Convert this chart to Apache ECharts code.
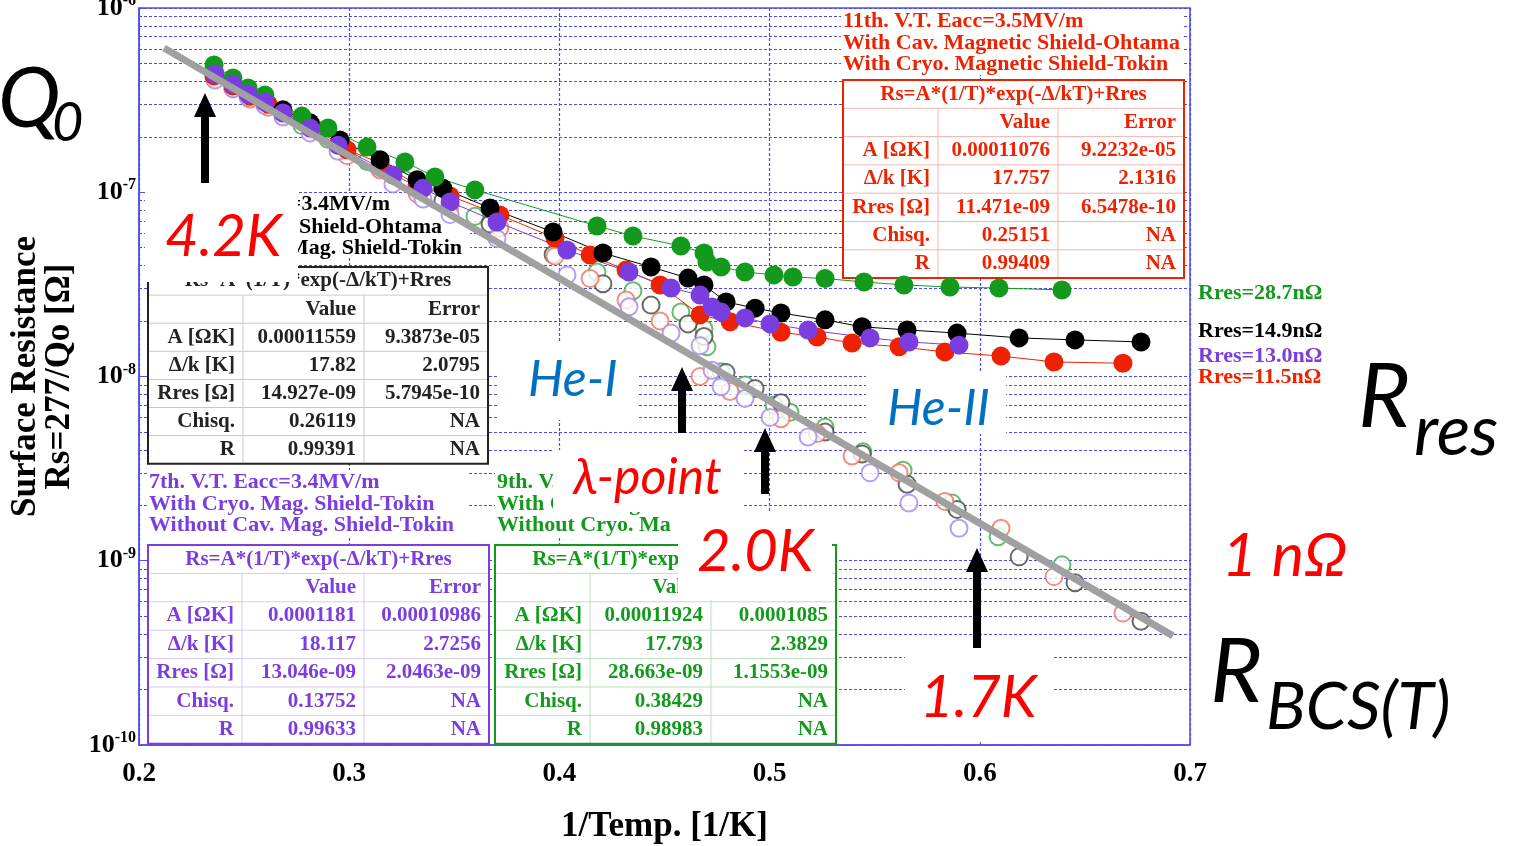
<!DOCTYPE html>
<html>
<head>
<meta charset="utf-8">
<script src="https://cdn.jsdelivr.net/npm/echarts@6/dist/echarts.min.js"></script>
<style>
html, body { margin: 0; padding: 0; background: #fff; }
#chart { width: 1516px; height: 846px; }
</style>
</head>
<body>
<div id="chart"></div>
<script>
// values: [1/T (1/K), Rs (Ohm)]
var greenFilled = [[0.2357,4.9e-7],[0.2447,4.17e-7],[0.2519,3.68e-7],[0.2599,3.37e-7],[0.2775,2.59e-7],[0.2899,2.23e-7],[0.3085,1.76e-7],[0.3265,1.46e-7],[0.3408,1.21e-7],[0.3598,1.03e-7],[0.4179,6.56e-8],[0.4350,5.79e-8],[0.4578,5.11e-8],[0.4688,4.68e-8],[0.4702,4.18e-8],[0.4769,3.93e-8],[0.4883,3.69e-8],[0.5021,3.56e-8],[0.5111,3.47e-8],[0.5264,3.40e-8],[0.5449,3.26e-8],[0.5639,3.14e-8],[0.5858,3.06e-8],[0.6091,3.02e-8],[0.6391,2.95e-8]];
var blackFilled = [[0.2357,4.49e-7],[0.2447,3.97e-7],[0.2519,3.50e-7],[0.2599,3.17e-7],[0.2685,2.80e-7],[0.2814,2.38e-7],[0.2956,1.92e-7],[0.3147,1.50e-7],[0.3323,1.17e-7],[0.3446,1.05e-7],[0.3670,8.21e-8],[0.3970,6.08e-8],[0.4207,4.68e-8],[0.4436,3.93e-8],[0.4612,3.42e-8],[0.4688,3.14e-8],[0.4793,2.54e-8],[0.4931,2.35e-8],[0.5054,2.21e-8],[0.5264,2.03e-8],[0.5440,1.86e-8],[0.5654,1.79e-8],[0.5892,1.72e-8],[0.6187,1.62e-8],[0.6453,1.58e-8],[0.6767,1.54e-8]];
var redFilled = [[0.2357,4.28e-7],[0.2447,3.77e-7],[0.2528,3.33e-7],[0.2614,3.01e-7],[0.2685,2.73e-7],[0.2823,2.29e-7],[0.2990,1.70e-7],[0.3147,1.44e-7],[0.3323,1.10e-7],[0.3480,9.54e-8],[0.3717,7.52e-8],[0.3979,5.64e-8],[0.4146,4.56e-8],[0.4317,3.78e-8],[0.4479,3.14e-8],[0.4669,2.16e-8],[0.4812,1.98e-8],[0.5054,1.74e-8],[0.5226,1.64e-8],[0.5392,1.52e-8],[0.5616,1.45e-8],[0.5834,1.36e-8],[0.6101,1.29e-8],[0.6353,1.20e-8],[0.6681,1.18e-8]];
var purpleFilled = [[0.2362,4.38e-7],[0.2447,3.87e-7],[0.2519,3.41e-7],[0.2599,3.09e-7],[0.2685,2.69e-7],[0.2814,2.23e-7],[0.2947,1.80e-7],[0.3208,1.24e-7],[0.3351,1.05e-7],[0.3480,8.86e-8],[0.3703,6.90e-8],[0.4036,4.86e-8],[0.4331,3.69e-8],[0.4531,3.02e-8],[0.4669,2.77e-8],[0.4726,2.38e-8],[0.4769,2.24e-8],[0.4883,2.08e-8],[0.5002,1.93e-8],[0.5183,1.79e-8],[0.5478,1.62e-8],[0.5663,1.54e-8],[0.5901,1.48e-8]];

// open circles: Rs - Rres
var greenHollow = [[0.2357,4.6e-7],[0.2447,3.88e-7],[0.2519,3.39e-7],[0.2599,3.08e-7],[0.2775,2.30e-7],[0.2899,1.94e-7],[0.3085,1.47e-7],[0.3265,1.17e-7],[0.3408,9.2e-8],[0.3598,7.4e-8],[0.4179,3.69e-8],[0.4350,2.92e-8],[0.4578,2.24e-8],[0.4688,1.81e-8],[0.4702,1.45e-8],[0.4769,1.06e-8],[0.4883,9.0e-9],[0.5021,7.0e-9],[0.5097,6.4e-9],[0.5264,5.3e-9],[0.5444,3.9e-9],[0.5635,3.1e-9],[0.5868,2.06e-9],[0.6087,1.35e-9],[0.6391,9.5e-10]];
var blackHollow = [[0.2357,4.34e-7],[0.2447,3.82e-7],[0.2519,3.35e-7],[0.2599,3.02e-7],[0.2685,2.65e-7],[0.2814,2.23e-7],[0.2956,1.77e-7],[0.3147,1.35e-7],[0.3323,1.02e-7],[0.3446,9.0e-8],[0.3670,6.72e-8],[0.3970,4.59e-8],[0.4207,3.19e-8],[0.4436,2.44e-8],[0.4612,1.93e-8],[0.4688,1.65e-8],[0.4793,1.05e-8],[0.4931,8.6e-9],[0.5054,7.2e-9],[0.5264,5.0e-9],[0.5440,3.8e-9],[0.5654,2.6e-9],[0.5892,1.9e-9],[0.6187,1.05e-9],[0.6453,7.6e-10],[0.6767,4.7e-10]];
var redHollow = [[0.2357,4.17e-7],[0.2447,3.65e-7],[0.2528,3.21e-7],[0.2614,2.89e-7],[0.2685,2.61e-7],[0.2823,2.17e-7],[0.2990,1.58e-7],[0.3147,1.32e-7],[0.3323,9.8e-8],[0.3480,8.4e-8],[0.3717,6.4e-8],[0.3979,4.5e-8],[0.4146,3.4e-8],[0.4317,2.6e-8],[0.4479,2.0e-8],[0.4669,1.0e-8],[0.4812,8.3e-9],[0.5054,5.9e-9],[0.5226,4.9e-9],[0.5392,3.7e-9],[0.5616,3.0e-9],[0.5834,2.1e-9],[0.6101,1.5e-9],[0.6353,8.2e-10],[0.6681,5.2e-10]];
var purpleHollow = [[0.2362,4.07e-7],[0.2447,3.64e-7],[0.2519,3.28e-7],[0.2599,2.96e-7],[0.2685,2.56e-7],[0.2814,2.10e-7],[0.2947,1.67e-7],[0.3208,1.11e-7],[0.3351,9.2e-8],[0.3480,7.56e-8],[0.3703,5.6e-8],[0.4036,3.56e-8],[0.4331,2.39e-8],[0.4531,1.72e-8],[0.4669,1.47e-8],[0.4726,1.08e-8],[0.4769,8.8e-9],[0.4883,7.6e-9],[0.5002,6.0e-9],[0.5183,4.7e-9],[0.5478,3.0e-9],[0.5663,2.06e-9],[0.5901,1.5e-9]];

// grey BCS guide line
var bcsLine = [[0.2119,6.07e-7],[0.6919,3.91e-10]];

var xTicks = [0.2, 0.3, 0.4, 0.5, 0.6, 0.7];

// fit tables
var fitHeader = 'Rs=A*(1/T)*exp(-\u0394/kT)+Rres';
var rowNames = ['A [\u03A9K]', '\u0394/k [K]', 'Rres [\u03A9]', 'Chisq.', 'R'];
var redFit = [['0.00011076','9.2232e-05'],['17.757','2.1316'],['11.471e-09','6.5478e-10'],['0.25151','NA'],['0.99409','NA']];
var blackFit = [['0.00011559','9.3873e-05'],['17.82','2.0795'],['14.927e-09','5.7945e-10'],['0.26119','NA'],['0.99391','NA']];
var purpleFit = [['0.0001181','0.00010986'],['18.117','2.7256'],['13.046e-09','2.0463e-09'],['0.13752','NA'],['0.99633','NA']];
var greenFit = [['0.00011924','0.0001085'],['17.793','2.3829'],['28.663e-09','1.1553e-09'],['0.38429','NA'],['0.98983','NA']];

var redTitle = ['11th. V.T. Eacc=3.5MV/m', 'With Cav. Magnetic Shield-Ohtama', 'With Cryo. Magnetic Shield-Tokin'];
var blackTitle = ['10th. V.T. Eacc=3.4MV/m', 'With Cav. Mag. Shield-Ohtama', 'With Cryo. Mag. Shield-Tokin'];
var purpleTitle = ['7th. V.T. Eacc=3.4MV/m', 'With Cryo. Mag. Shield-Tokin', 'Without Cav. Mag. Shield-Tokin'];
var greenTitle = ['9th. V.T. Eacc=3.5MV/m', 'With Cav. Mag. Shield-Ohtama', 'Without Cryo. Mag. Shield-Tokin'];

var rresLabels = ['Rres=28.7n\u03A9', 'Rres=14.9n\u03A9', 'Rres=13.0n\u03A9', 'Rres=11.5n\u03A9'];

var GREEN = '#139a1c', BLACK = '#000000', RED = '#ee2200', PURPLE = '#7a3ee0';
var GRID_BLUE = '#4a4ae6';
var SERIF = '"Liberation Serif", "DejaVu Serif", serif';
var SANS = 'Lato, "Open Sans", "Noto Sans", sans-serif';

// minor log grid lines at 2..9 x 10^n
var minorLines = [];
for (var e = -10; e < -6; e++) {
    for (var k = 2; k <= 9; k++) {
        var v = k * Math.pow(10, e);
        minorLines.push({ coords: [[xTicks[0], v], [xTicks[xTicks.length - 1], v]] });
    }
}

function txt(text, x, y, font, fill, align, z) {
    return { type: 'text', z: z, silent: true,
        style: { text: text, x: x, y: y, font: font, fill: fill, textAlign: align || 'left', verticalAlign: 'middle' } };
}

function rect(x, y, w, h, fill, stroke, lw, z) {
    return { type: 'rect', z: z, silent: true, shape: { x: x, y: y, width: w, height: h },
        style: { fill: fill, stroke: stroke || null, lineWidth: lw || 0 } };
}

function line(x1, y1, x2, y2, stroke, lw, z) {
    return { type: 'line', z: z, silent: true, shape: { x1: x1, y1: y1, x2: x2, y2: y2 },
        style: { stroke: stroke, lineWidth: lw } };
}

function table(cols, top, rowH, color, inner, vals) {
    var els = [], h = rowH * 7, font = 'bold 21px ' + SERIF;
    els.push(rect(cols[0], top, cols[3] - cols[0], h, '#fff', null, 0, 1));
    for (var i = 1; i < 7; i++) els.push(line(cols[0], top + i * rowH, cols[3], top + i * rowH, inner, 1, 1));
    els.push(line(cols[1], top + rowH, cols[1], top + h, inner, 1, 1));
    els.push(line(cols[2], top + rowH, cols[2], top + h, inner, 1, 1));
    els.push(rect(cols[0], top, cols[3] - cols[0], h, 'none', color, 2, 1));
    els.push(txt(fitHeader, (cols[0] + cols[3]) / 2, top + rowH / 2, font, color, 'center', 1));
    els.push(txt('Value', cols[2] - 8, top + rowH * 1.5, font, color, 'right', 1));
    els.push(txt('Error', cols[3] - 8, top + rowH * 1.5, font, color, 'right', 1));
    rowNames.forEach(function (n, r) {
        var y = top + rowH * (r + 2.5);
        els.push(txt(n, cols[1] - 8, y, font, color, 'right', 1));
        els.push(txt(vals[r][0], cols[2] - 8, y, font, color, 'right', 1));
        els.push(txt(vals[r][1], cols[3] - 8, y, font, color, 'right', 1));
    });
    return els;
}

function title(lines, x, ys, color, align, clip) {
    return lines.map(function (s, i) {
        var t = txt(s, x, ys[i], 'bold 22px ' + SERIF, color, align, 1);
        if (clip) { t.style.width = clip; t.style.overflow = 'truncate'; t.style.ellipsis = ''; }
        return t;
    });
}

function arrow(x, top, bottom) {
    return { type: 'polygon', z: 11, silent: true,
        shape: { points: [[x, top], [x + 11, top + 24], [x + 4, top + 24], [x + 4, bottom], [x - 4, bottom], [x - 4, top + 24], [x - 11, top + 24]] },
        style: { fill: '#000' } };
}

var graphics = [];
// title backgrounds
graphics.push(rect(841, 9, 342, 66, '#fff', null, 0, 1));
graphics.push(rect(298, 193, 172, 64, '#fff', null, 0, 1));
graphics.push(rect(147, 470, 320, 66, '#fff', null, 0, 1));
graphics.push(rect(495, 470, 185, 66, '#fff', null, 0, 1));
graphics = graphics.concat(title(redTitle, 843, [21, 43, 64], RED, 'left'));
graphics = graphics.concat(title(blackTitle, 390, [204, 227, 248], BLACK, 'right'));
graphics[graphics.length - 2].style.x = 442;
graphics[graphics.length - 1].style.x = 462;
graphics = graphics.concat(title(purpleTitle, 149, [482, 504, 525], PURPLE, 'left'));
graphics = graphics.concat(title(greenTitle, 497, [482, 504, 525], GREEN, 'left', 181));
graphics = graphics.concat(table([843, 938, 1058, 1184], 80, 28.3, RED, '#f4b4b0', redFit));
graphics = graphics.concat(table([148, 243, 364, 488], 267, 28.1, '#222', '#c8c8c8', blackFit));
graphics = graphics.concat(table([148, 242, 364, 489], 545, 28.4, PURPLE, '#d6c8f6', purpleFit));
graphics = graphics.concat(table([495, 590, 711, 836], 545, 28.4, GREEN, '#b8e0bc', greenFit));

// white annotation boxes and labels
graphics.push(rect(145, 186, 153, 96, '#fff', null, 0, 10));
graphics.push(rect(553, 450, 190, 62, '#fff', null, 0, 10));
graphics.push(rect(678, 512, 154, 88, '#fff', null, 0, 10));
graphics.push(rect(497, 342, 140, 78, '#fff', null, 0, 10));
graphics.push(rect(866, 372, 140, 62, '#fff', null, 0, 10));
graphics.push(rect(905, 645, 148, 97, '#fff', null, 0, 10));

var redItalic = 'italic 58px ' + SANS;
graphics.push(txt('4.2K', 165, 237, redItalic, '#ff0000', 'left', 11));
graphics.push(txt('\u03BB-point', 573, 478, 'italic 50px ' + SANS, '#ff0000', 'left', 11));
graphics.push(txt('2.0K', 697, 552, redItalic, '#ff0000', 'left', 11));
graphics.push(txt('1.7K', 920, 698, redItalic, '#ff0000', 'left', 11));
graphics.push(txt('1 n\u03A9', 1222, 556, 'italic 61px ' + SANS, '#ff0000', 'left', 11));
graphics.push(txt('He-I', 528, 380, 'italic 50px ' + SANS, '#0070c0', 'left', 11));
graphics.push(txt('He-II', 887, 409, 'italic 50px ' + SANS, '#0070c0', 'left', 11));

graphics.push(txt('Q', -2, 100, 'italic 84px ' + SANS, '#000', 'left', 11));
graphics.push(txt('0', 52, 124, 'italic 54px ' + SANS, '#000', 'left', 11));
graphics.push(txt('R', 1358, 398, 'italic 90px ' + SANS, '#000', 'left', 11));
graphics.push(txt('res', 1414, 432, 'italic 70px ' + SANS, '#000', 'left', 11));
graphics.push(txt('R', 1210, 673, 'italic 90px ' + SANS, '#000', 'left', 11));
graphics.push(txt('BCS(T)', 1266, 708, 'italic 66px ' + SANS, '#000', 'left', 11));

graphics.push(arrow(205, 93, 183));
graphics.push(arrow(682, 367, 433));
graphics.push(arrow(765, 428, 494));
graphics.push(arrow(977, 548, 648));

[GREEN, BLACK, PURPLE, RED].forEach(function (c, i) {
    graphics.push(txt(rresLabels[i], 1198, [293, 331, 356, 377][i], 'bold 22px ' + SERIF, c, 'left', 11));
});

function filled(name, data, color) {
    return { name: name, type: 'line', z: 3, data: data, symbol: 'circle', symbolSize: 19,
        itemStyle: { color: color }, lineStyle: { color: color, width: 1 }, animation: false };
}
function hollow(name, data, color) {
    return { name: name, type: 'scatter', z: 2, data: data, symbol: 'emptyCircle', symbolSize: 17,
        itemStyle: { color: color, borderWidth: 1.1 }, animation: false };
}

var dash = { color: GRID_BLUE, type: [3, 2], width: 1.2 };

var chart = echarts.init(document.getElementById('chart'));
chart.setOption({
    animation: false,
    grid: { left: 139, right: 326, top: 8, bottom: 101, outerBoundsMode: 'none', containLabel: false,
        show: true, borderColor: '#5050ea', borderWidth: 1.5 },
    xAxis: {
        type: 'value', min: xTicks[0], max: xTicks[xTicks.length - 1], interval: 0.1,
        name: '1/Temp. [1/K]', nameLocation: 'middle', nameGap: 64,
        nameTextStyle: { fontFamily: SERIF, fontWeight: 'bold', fontSize: 35, color: '#000' },
        axisLine: { lineStyle: { color: '#5050ea', width: 1.5 } },
        axisTick: { inside: true, length: 6, lineStyle: { color: '#5050ea' } },
        axisLabel: { margin: 16, fontFamily: SERIF, fontWeight: 'bold', fontSize: 27, color: '#000',
            formatter: function (v) { return v.toFixed(1); } },
        splitLine: { show: true, lineStyle: dash }
    },
    yAxis: {
        type: 'log', logBase: 10, min: 1e-10, max: 1e-6,
        name: 'Surface Resistance\nRs=277/Qo [\u03A9]', nameLocation: 'middle', nameGap: 62, nameRotate: 90,
        nameTextStyle: { fontFamily: SERIF, fontWeight: 'bold', fontSize: 35, lineHeight: 34, color: '#000' },
        axisLine: { lineStyle: { color: '#5050ea', width: 1.5 } },
        axisTick: { inside: true, length: 6, lineStyle: { color: '#5050ea' } },
        axisLabel: { margin: 3,
            formatter: function (v) { return '{b|10}{s|' + Math.round(Math.log10(v)) + '}'; },
            rich: {
                b: { fontFamily: SERIF, fontWeight: 'bold', fontSize: 26, color: '#000' },
                s: { fontFamily: SERIF, fontWeight: 'bold', fontSize: 16, color: '#000', padding: [0, 0, 14, 0] }
            } },
        splitLine: { show: true, lineStyle: dash }
    },
    graphic: { elements: graphics },
    series: [
        { name: 'minor grid', type: 'lines', coordinateSystem: 'cartesian2d', z: 0, silent: true,
          polyline: false, data: minorLines, lineStyle: { color: GRID_BLUE, type: [3, 2], width: 1.2, opacity: 1 } },
        hollow('green open', greenHollow, '#3faa4a'),
        hollow('black open', blackHollow, '#444444'),
        hollow('red open', redHollow, '#f2705f'),
        hollow('purple open', purpleHollow, '#a486f2'),
        filled('red', redFilled, RED),
        filled('black', blackFilled, BLACK),
        filled('green', greenFilled, GREEN),
        filled('purple', purpleFilled, PURPLE),
        { name: 'BCS', type: 'line', z: 4, data: bcsLine, symbol: 'none', silent: true,
          lineStyle: { color: '#a0a0a0', width: 7 } }
    ]
});
window.addEventListener('resize', function () { chart.resize(); });
</script>
</body>
</html>
